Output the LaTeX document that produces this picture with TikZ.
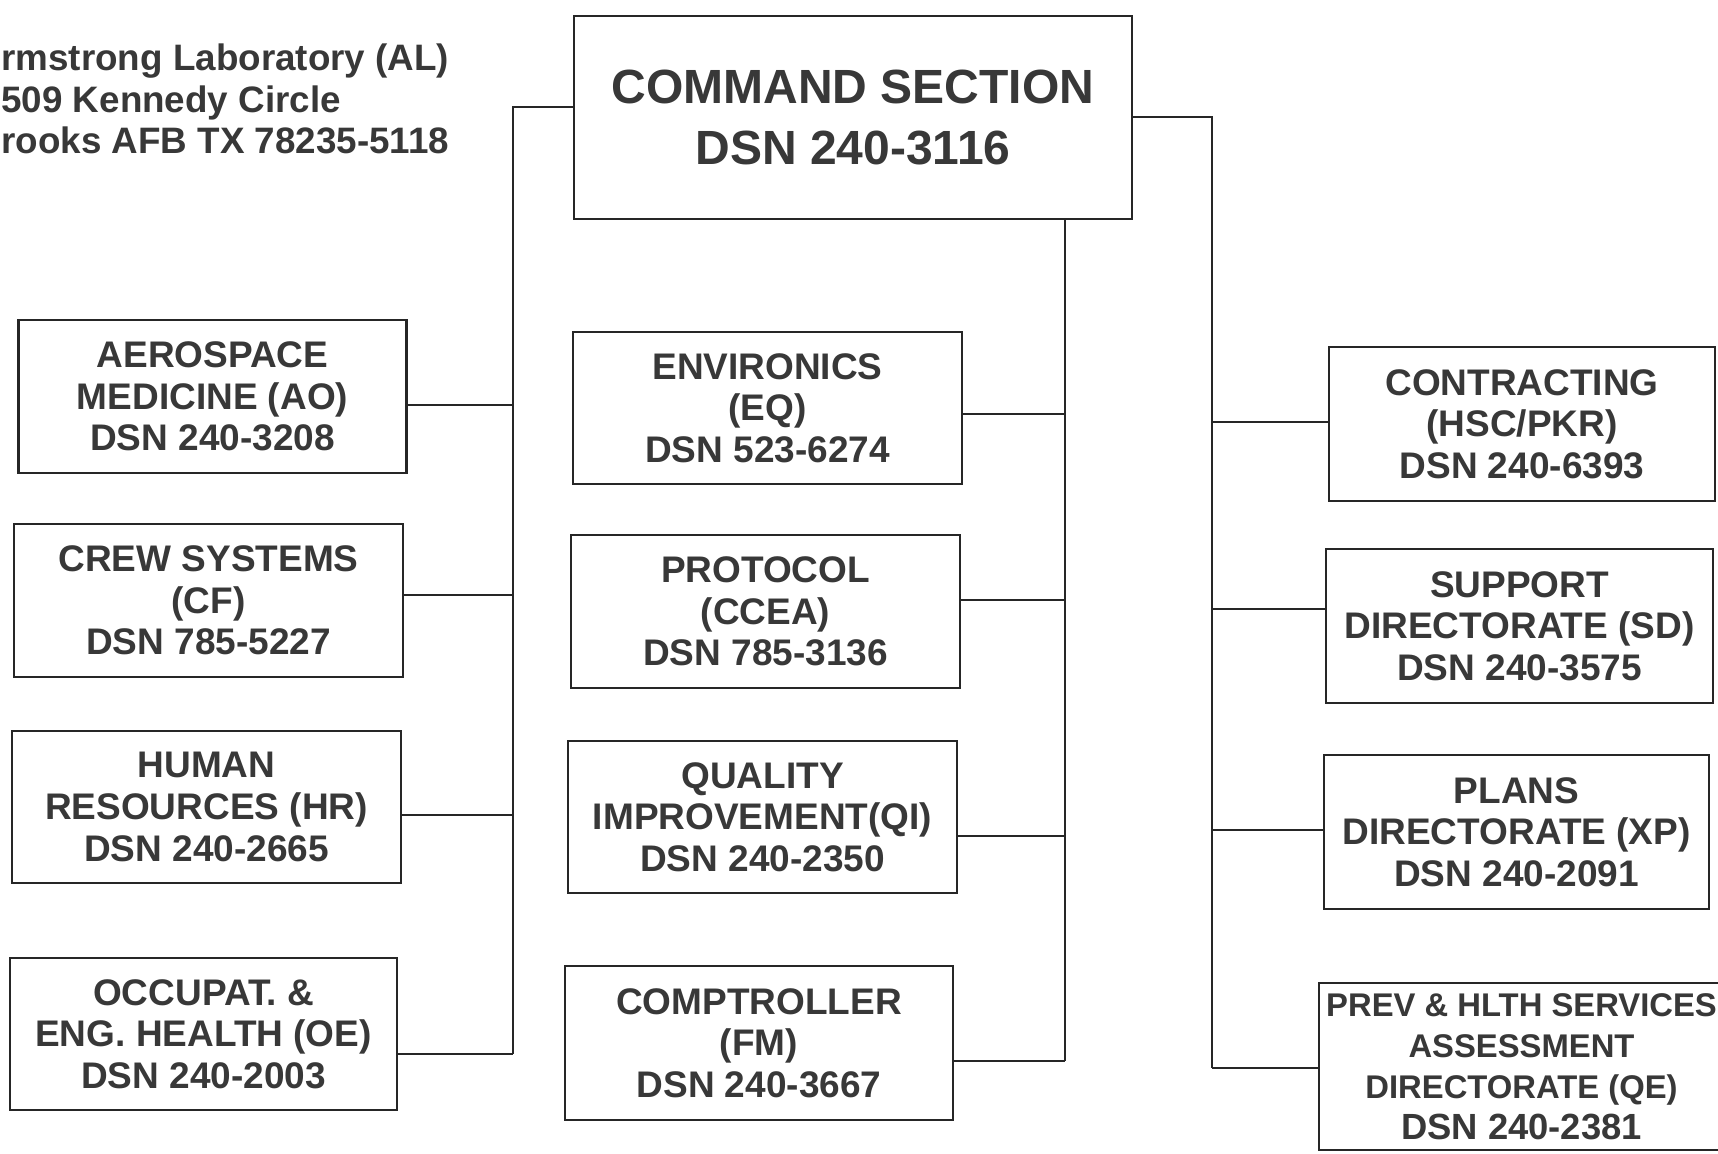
\documentclass[tikz,border=0pt]{standalone}
\usepackage{fontspec}
\setmainfont{Liberation Sans}
\definecolor{ink}{HTML}{383838}
\definecolor{rule}{HTML}{262626}
\begin{document}
\begin{tikzpicture}[x=0.5pt,y=-0.5pt,
  every node/.style={text=ink, font=\bfseries\fontsize{18.5}{20.8}\selectfont},
  unit/.style={draw=rule, line width=1.3pt, align=center, inner sep=0pt},
  link/.style={draw=rule, line width=1.3pt},
  title/.style={anchor=base west, inner sep=0pt, font=\bfseries\fontsize{18.4}{20.8}\selectfont}]
\useasboundingbox (0,0) rectangle (1718,1154);
\fill[white] (0,0) rectangle (1718,1154);
\clip (0,0) rectangle (1718,1154);

% address
\node[title] (t1) at (1,71) {rmstrong Laboratory (AL)};
\node[title] (t2) at (1,113) {509 Kennedy Circle};
\node[title] (t3) at (1,154) {rooks AFB TX 78235-5118};

% command section
\node[unit, minimum width=279pt, minimum height=101.5pt,
      font=\bfseries\fontsize{24}{30.7}\selectfont] (cmd) at (853,117.5)
      {COMMAND SECTION\\DSN 240-3116};

% left column
\node[unit, minimum width=194pt, minimum height=76.5pt] (aero) at (212.5,396.5) {AEROSPACE\\MEDICINE (AO)\\DSN 240-3208};
\node[unit, minimum width=194.5pt, minimum height=76.5pt] (crew) at (208.5,600.5) {CREW SYSTEMS\\(CF)\\DSN 785-5227};
\node[unit, minimum width=194.5pt, minimum height=76pt] (hr) at (206.5,807) {HUMAN\\RESOURCES (HR)\\DSN 240-2665};
\node[unit, minimum width=193.5pt, minimum height=76pt] (oe) at (203.5,1034) {OCCUPAT. \&\\ENG. HEALTH (OE)\\DSN 240-2003};

% middle column
\node[unit, minimum width=194.5pt, minimum height=76pt] (eq) at (767.5,408) {ENVIRONICS\\(EQ)\\DSN 523-6274};
\node[unit, minimum width=194.5pt, minimum height=76.5pt] (ccea) at (765.5,611.5) {PROTOCOL\\(CCEA)\\DSN 785-3136};
\node[unit, minimum width=194.5pt, minimum height=76pt] (qi) at (762.5,817) {QUALITY\\IMPROVEMENT(QI)\\DSN 240-2350};
\node[unit, minimum width=194pt, minimum height=77pt] (fm) at (759,1043) {COMPTROLLER\\(FM)\\DSN 240-3667};

% right column
\node[unit, minimum width=193pt, minimum height=77pt] (pkr) at (1522,424) {CONTRACTING\\(HSC/PKR)\\DSN 240-6393};
\node[unit, minimum width=193.5pt, minimum height=77pt] (sd) at (1519.5,626) {SUPPORT\\DIRECTORATE (SD)\\DSN 240-3575};
\node[unit, minimum width=192.5pt, minimum height=77pt] (xp) at (1516.5,832) {PLANS\\DIRECTORATE (XP)\\DSN 240-2091};
\node[unit, minimum width=202.5pt, minimum height=83.5pt,
      font=\bfseries\fontsize{16.4}{20.5}\selectfont] (qe) at (1521.5,1066.5)
      {PREV \& HLTH SERVICES\\ASSESSMENT\\DIRECTORATE (QE)\\{\fontsize{18.2}{20.5}\selectfont DSN 240-2381}};

% trunk coordinates
\coordinate (ltop) at (513,107);
\coordinate (lao) at (513,405);
\coordinate (lcf) at (513,595);
\coordinate (lhr) at (513,815);
\coordinate (loe) at (513,1054);
\coordinate (meq) at (1065,414);
\coordinate (mccea) at (1065,600);
\coordinate (mqi) at (1065,836);
\coordinate (mfm) at (1065,1061);
\coordinate (rtop) at (1212,117);
\coordinate (rpkr) at (1212,422);
\coordinate (rsd) at (1212,609);
\coordinate (rxp) at (1212,830);
\coordinate (rqe) at (1212,1068);

% left trunk
\draw[link] (cmd.west |- ltop) -- (ltop) -- (loe);
\draw[link] (aero.east |- lao) -- (lao);
\draw[link] (crew.east |- lcf) -- (lcf);
\draw[link] (hr.east |- lhr) -- (lhr);
\draw[link] (oe.east |- loe) -- (loe);

% middle trunk
\draw[link] (cmd.south -| mfm) -- (mfm);
\draw[link] (eq.east |- meq) -- (meq);
\draw[link] (ccea.east |- mccea) -- (mccea);
\draw[link] (qi.east |- mqi) -- (mqi);
\draw[link] (fm.east |- mfm) -- (mfm);

% right trunk
\draw[link] (cmd.east |- rtop) -- (rtop) -- (rqe);
\draw[link] (pkr.west |- rpkr) -- (rpkr);
\draw[link] (sd.west |- rsd) -- (rsd);
\draw[link] (xp.west |- rxp) -- (rxp);
\draw[link] (qe.west |- rqe) -- (rqe);
\end{tikzpicture}
\end{document}
